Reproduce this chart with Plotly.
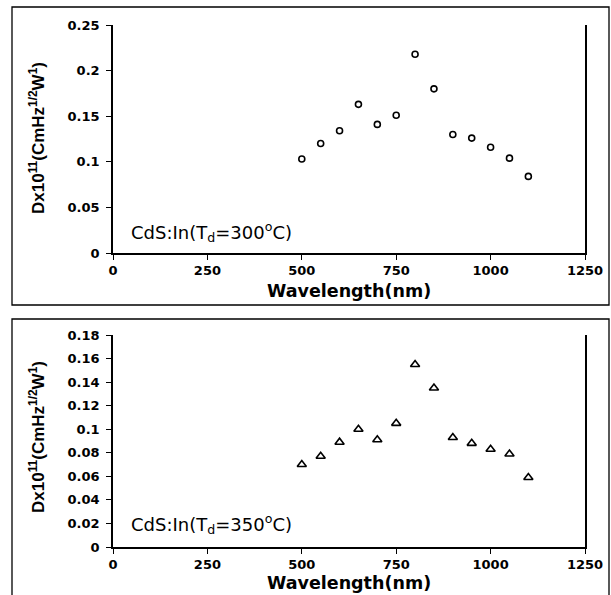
import plotly.graph_objects as go

# ---- data ----
wavelength = [500, 550, 600, 650, 700, 750, 800, 850, 900, 950, 1000, 1050, 1100]
d_300 = [0.103, 0.120, 0.134, 0.163, 0.141, 0.151, 0.218, 0.180, 0.130, 0.126, 0.116, 0.104, 0.084]
d_350 = [0.070, 0.077, 0.089, 0.100, 0.091, 0.105, 0.155, 0.135, 0.093, 0.088, 0.083, 0.079, 0.059]

x_ticks = [0, 250, 500, 750, 1000, 1250]
y_ticks_top = [0, 0.05, 0.1, 0.15, 0.2, 0.25]
y_ticks_bot = [0, 0.02, 0.04, 0.06, 0.08, 0.1, 0.12, 0.14, 0.16, 0.18]
y_ticklabels_top = ["0", "0.05", "0.1", "0.15", "0.2", "0.25"]
y_ticklabels_bot = ["0", "0.02", "0.04", "0.06", "0.08", "0.1", "0.12", "0.14", "0.16", "0.18"]

label_300 = "CdS:In(T<sub>d</sub>=300<sup>o</sup>C)"
label_350 = "CdS:In(T<sub>d</sub>=350<sup>o</sup>C)"
y_title = "Dx10<sup>11</sup>(CmHz<sup>1/2</sup>W<sup>1</sup>)"
x_title = "Wavelength(nm)"

W, H = 611, 595
def px(x): return x / W
def py(y): return 1 - y / H

fig = go.Figure()
fig.add_trace(go.Scatter(x=wavelength, y=d_300, mode="markers", xaxis="x", yaxis="y",
                         marker=dict(symbol="circle-open", size=6, color="black", line=dict(width=1.6, color="black")),
                         showlegend=False))
fig.add_trace(go.Scatter(x=wavelength, y=d_350, mode="markers", xaxis="x2", yaxis="y2",
                         marker=dict(symbol="triangle-up-open", size=8, color="black", line=dict(width=1.6, color="black")),
                         showlegend=False))

tickfont = dict(family="DejaVu Sans", size=13, color="black", weight="bold")
xdom = [px(113), px(585)]
common_x = dict(range=[0, 1250], tickvals=x_ticks, ticktext=[str(v) for v in x_ticks],
                showline=True, linecolor="black", linewidth=1.5, mirror=False,
                ticks="outside", ticklen=5, tickcolor="black", tickwidth=1,
                showgrid=False, zeroline=False, tickfont=tickfont, domain=xdom, automargin=False)
common_y = dict(showline=True, linecolor="black", linewidth=1.5, mirror=True,
                ticks="outside", ticklen=5, tickcolor="black", tickwidth=1,
                showgrid=False, zeroline=False, tickfont=tickfont, ticklabelstandoff=4, automargin=False)

fig.update_layout(
    width=W, height=H, margin=dict(l=0, r=0, t=0, b=0, autoexpand=False),
    paper_bgcolor="white", plot_bgcolor="white",
    xaxis=dict(**common_x, anchor="y"),
    yaxis=dict(**common_y, range=[0, 0.25], tickvals=y_ticks_top, ticktext=y_ticklabels_top,
               domain=[py(253), py(25)], anchor="x"),
    xaxis2=dict(**common_x, anchor="y2"),
    yaxis2=dict(**common_y, range=[0, 0.18], tickvals=y_ticks_bot, ticktext=y_ticklabels_bot,
                domain=[py(547), py(335)], anchor="x2"),
)

# panel borders
fig.add_shape(type="rect", xref="paper", yref="paper", x0=px(12), x1=px(609), y0=py(305), y1=py(7),
              line=dict(color="black", width=1.3), fillcolor="rgba(0,0,0,0)", layer="below")
fig.add_shape(type="rect", xref="paper", yref="paper", x0=px(12), x1=px(609), y0=py(605), y1=py(319),
              line=dict(color="black", width=1.3), fillcolor="rgba(0,0,0,0)", layer="below")

ann_font = dict(family="DejaVu Sans", size=18, color="black")
title_font = dict(family="DejaVu Sans", size=17.5, color="black", weight="bold")
ytitle_font = dict(family="Liberation Sans, Arial", size=17, color="black", weight="bold")

for lab, yc, ytc, xtc in [(label_300, 232, 138, 291), (label_350, 524, 437, 583)]:
    fig.add_annotation(text=lab, xref="paper", yref="paper", x=px(129), y=py(yc),
                       xanchor="left", yanchor="middle", showarrow=False, font=ann_font)
    fig.add_annotation(text=y_title, xref="paper", yref="paper", x=px(37), y=py(ytc),
                       xanchor="center", yanchor="middle", textangle=-90, showarrow=False, font=ytitle_font)
    fig.add_annotation(text=x_title, xref="paper", yref="paper", x=px(349), y=py(xtc),
                       xanchor="center", yanchor="middle", showarrow=False, font=title_font)

fig.write_html("out.html", config={"displayModeBar": False},
               post_script="document.body.style.margin='0';document.body.style.overflow='hidden';")
